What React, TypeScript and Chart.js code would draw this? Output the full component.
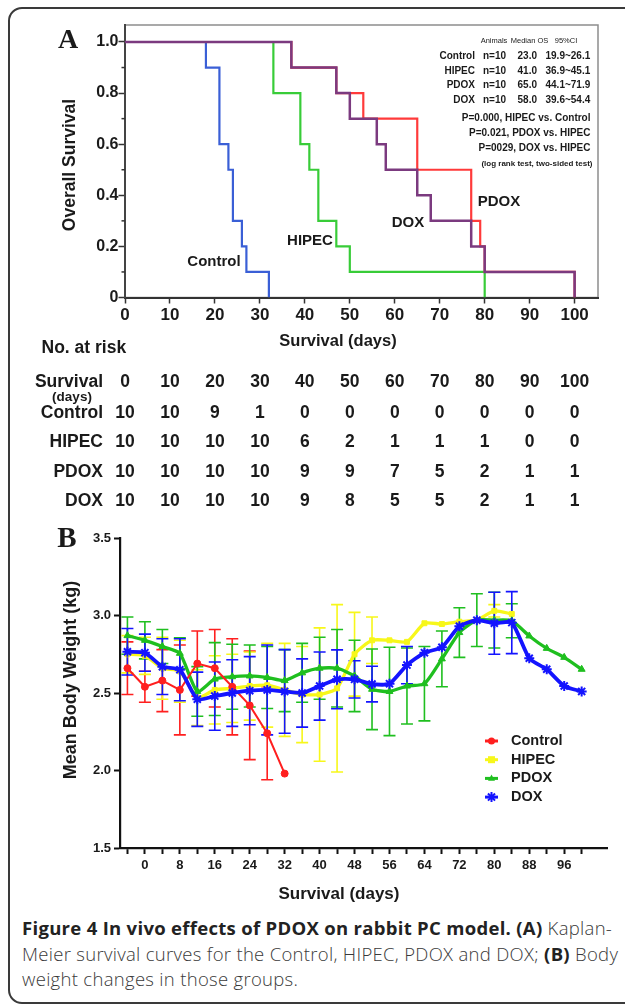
import React, { useEffect, useRef } from 'react';
import { Chart, registerables } from 'chart.js';

Chart.register(...registerables);

const FONT = '"Liberation Sans", Arial, Helvetica, sans-serif';
const SERIF = '"Liberation Serif", "Times New Roman", serif';

// ---------------- Panel A: Kaplan-Meier survival ----------------
const controlDays = [0, 18, 21, 23, 24, 26, 27, 32];
const controlSurv = [1, 0.9, 0.6, 0.5, 0.3, 0.2, 0.1, 0];
const hipecDays = [0, 33, 39, 41, 43, 47, 50, 80];
const hipecSurv = [1, 0.8, 0.6, 0.5, 0.3, 0.2, 0.1, 0];
const pdoxDays = [0, 37, 47, 53, 65, 77, 79, 80, 100];
const pdoxSurv = [1, 0.9, 0.8, 0.7, 0.5, 0.3, 0.2, 0.1, 0];
const doxDays = [0, 37, 47, 50, 56, 58, 65, 68, 77, 80, 100];
const doxSurv = [1, 0.9, 0.8, 0.7, 0.6, 0.5, 0.4, 0.3, 0.2, 0.1, 0];

const kmXTicks = [0, 10, 20, 30, 40, 50, 60, 70, 80, 90, 100];
const kmYMajor = [0, 0.2, 0.4, 0.6, 0.8, 1.0];
const kmYMinor = [0.1, 0.3, 0.5, 0.7, 0.9];

const statGroups = ['Control', 'HIPEC', 'PDOX', 'DOX'];
const statN = ['n=10', 'n=10', 'n=10', 'n=10'];
const statMedian = ['23.0', '41.0', '65.0', '58.0'];
const statCI = ['19.9~26.1', '36.9~45.1', '44.1~71.9', '39.6~54.4'];
const pValueLines = ['P=0.000, HIPEC vs. Control', 'P=0.021, PDOX vs. HIPEC', 'P=0029, DOX vs. HIPEC'];
const testNote = '(log rank test, two-sided test)';

const riskDays = [0, 10, 20, 30, 40, 50, 60, 70, 80, 90, 100];
const riskGroups = ['Control', 'HIPEC', 'PDOX', 'DOX'];
const riskControl = [10, 10, 9, 1, 0, 0, 0, 0, 0, 0, 0];
const riskHipec = [10, 10, 10, 10, 6, 2, 1, 1, 1, 0, 0];
const riskPdox = [10, 10, 10, 10, 9, 9, 7, 5, 2, 1, 1];
const riskDox = [10, 10, 10, 10, 9, 8, 5, 5, 2, 1, 1];

// ---------------- Panel B: body weight ----------------
const weightDays = [-4, 0, 4, 8, 12, 16, 20, 24, 28, 32, 36, 40, 44, 48, 52, 56, 60, 64, 68, 72, 76, 80, 84, 88, 92, 96, 100];
const weightTickDays = [-4, 0, 4, 8, 12, 16, 20, 24, 28, 32, 36, 40, 44, 48, 52, 56, 60, 64, 68, 72, 76, 80, 84, 88, 92, 96, 100];
const weightLabelDays = [0, 8, 16, 24, 32, 40, 48, 56, 64, 72, 80, 88, 96];
const weightYTicks = [1.5, 2.0, 2.5, 3.0, 3.5];

const controlWeight = [2.66, 2.54, 2.58, 2.52, 2.69, 2.66, 2.54, 2.42, 2.24, 1.98];
const controlSD = [0.17, 0.1, 0.2, 0.29, 0.21, 0.25, 0.31, 0.35, 0.3, 0];
const hipecWeight = [2.75, 2.74, 2.66, 2.64, 2.47, 2.52, 2.53, 2.545, 2.55, 2.52, 2.49, 2.49, 2.53, 2.75, 2.84, 2.84, 2.83, 2.95, 2.945, 2.96, 2.97, 3.03, 3.01];
const hipecSD = [0.12, 0.12, 0.2, 0.2, 0.18, 0.22, 0.22, 0.22, 0.27, 0.3, 0.31, 0.43, 0.54, 0.27, 0.15, 0, 0, 0, 0, 0, 0, 0.04, 0];
const pdoxWeight = [2.87, 2.84, 2.8, 2.756, 2.51, 2.59, 2.605, 2.61, 2.6, 2.58, 2.63, 2.66, 2.66, 2.61, 2.524, 2.51, 2.545, 2.56, 2.72, 2.89, 2.97, 2.97, 2.966, 2.868, 2.788, 2.73, 2.653];
const pdoxSD = [0.12, 0.12, 0.11, 0.1, 0.16, 0.235, 0.21, 0.2, 0.2, 0.2, 0.19, 0.2, 0.25, 0.23, 0.26, 0.285, 0.245, 0.24, 0.18, 0.16, 0.17, 0.18, 0.11, 0, 0, 0, 0];
const doxWeight = [2.766, 2.76, 2.67, 2.65, 2.46, 2.48, 2.5, 2.515, 2.52, 2.51, 2.5, 2.545, 2.588, 2.588, 2.558, 2.56, 2.68, 2.76, 2.795, 2.93, 2.97, 2.95, 2.954, 2.724, 2.653, 2.545, 2.51];
const doxSD = [0.15, 0.12, 0.18, 0.2, 0.175, 0.22, 0.215, 0.22, 0.29, 0.27, 0.22, 0.22, 0.19, 0.12, 0.115, 0, 0.12, 0, 0, 0, 0, 0.2, 0.2, 0, 0, 0, 0];

const weightGroups = ['Control', 'HIPEC', 'PDOX', 'DOX'];
const weightColors = ['#ff1f1f', '#f7f71a', '#1fbf1f', '#1414ff'];

function font(size: number, bold = true) {
  return `${bold ? 'bold ' : ''}${size}px ${FONT}`;
}

function toPoints(xs: number[], ys: number[]) {
  return ys.map((y, i) => ({ x: xs[i], y }));
}

// ---------- Panel A plugin ----------
const kmPlugin = {
  id: 'kmText',
  beforeDraw(chart: any) {
    const { ctx, chartArea } = chart;
    ctx.save();
    ctx.strokeStyle = '#8d8d8d';
    ctx.lineWidth = 1.5;
    ctx.strokeRect(chartArea.left, chartArea.top, chartArea.right - chartArea.left, chartArea.bottom - chartArea.top);
    ctx.restore();
  },
  afterDraw(chart: any) {
    const { ctx, chartArea } = chart;
    const xs = chart.scales.x;
    const ys = chart.scales.y;
    ctx.save();
    // minor y ticks
    ctx.strokeStyle = '#333';
    ctx.lineWidth = 1.5;
    kmYMinor.forEach((v) => {
      const py = ys.getPixelForValue(v);
      ctx.beginPath();
      ctx.moveTo(chartArea.left - 3.5, py);
      ctx.lineTo(chartArea.left, py);
      ctx.stroke();
    });

    ctx.fillStyle = '#1a1a1a';
    // Panel label
    ctx.font = `bold 28px ${SERIF}`;
    ctx.textAlign = 'center';
    ctx.textBaseline = 'middle';
    ctx.fillText('A', 68, 41);

    // axis titles
    ctx.save();
    ctx.translate(70.5, 165);
    ctx.rotate(-Math.PI / 2);
    ctx.font = font(17.5);
    ctx.fillText('Overall Survival', 0, 0);
    ctx.restore();
    ctx.font = font(16.5);
    ctx.fillText('Survival (days)', 338, 341);

    // curve labels
    ctx.font = font(15);
    ctx.fillText('Control', 214, 262);
    ctx.fillText('HIPEC', 310, 241);
    ctx.fillText('DOX', 408, 223);
    ctx.fillText('PDOX', 499, 202);

    // stats box
    ctx.font = font(7.5, false);
    ctx.fillText('Animals', 494, 41);
    ctx.fillText('Median OS', 529.5, 41);
    ctx.fillText('95%CI', 566, 41);
    ctx.font = font(10);
    statGroups.forEach((g, i) => {
      const y = 56 + i * 14.8;
      ctx.textAlign = 'right';
      ctx.fillText(g, 475, y);
      ctx.textAlign = 'left';
      ctx.fillText(statN[i], 483, y);
      ctx.textAlign = 'right';
      ctx.fillText(statMedian[i], 537, y);
      ctx.textAlign = 'left';
      ctx.fillText(statCI[i], 545.5, y);
    });
    ctx.textAlign = 'right';
    pValueLines.forEach((t, i) => {
      ctx.fillText(t, 590.5, 118 + i * 15.2);
    });
    ctx.font = font(8);
    ctx.fillText(testNote, 592.5, 164);

    // Number at risk table
    ctx.textAlign = 'left';
    ctx.font = font(17.5);
    ctx.fillText('No. at risk', 41.5, 348.5);
    const rowY = [413.5, 442.5, 472.5, 501.5];
    const rows = [riskControl, riskHipec, riskPdox, riskDox];
    ctx.textAlign = 'right';
    ctx.fillText('Survival', 103, 382);
    riskGroups.forEach((g, i) => ctx.fillText(g, 103, rowY[i]));
    ctx.textAlign = 'center';
    ctx.font = font(13.5);
    ctx.fillText('(days)', 72, 397);
    ctx.font = font(17.5);
    riskDays.forEach((d, j) => {
      const px = xs.getPixelForValue(d);
      ctx.fillText(String(d), px, 382);
      rows.forEach((r, i) => ctx.fillText(String(r[j]), px, rowY[i]));
    });
    ctx.restore();
  },
};

// ---------- Panel B plugin ----------
function drawMarker(ctx: CanvasRenderingContext2D, style: string, x: number, y: number, r: number, color: string) {
  ctx.save();
  ctx.fillStyle = color;
  ctx.strokeStyle = color;
  ctx.lineWidth = 2;
  ctx.beginPath();
  if (style === 'circle') {
    ctx.arc(x, y, r, 0, Math.PI * 2);
    ctx.fill();
  } else if (style === 'rect') {
    ctx.fillRect(x - r, y - r, 2 * r, 2 * r);
  } else if (style === 'triangle') {
    ctx.moveTo(x, y - r * 1.1);
    ctx.lineTo(x + r, y + r * 0.7);
    ctx.lineTo(x - r, y + r * 0.7);
    ctx.closePath();
    ctx.fill();
  } else {
    for (let k = 0; k < 4; k++) {
      const a = (k * Math.PI) / 4;
      ctx.moveTo(x - Math.cos(a) * r, y - Math.sin(a) * r);
      ctx.lineTo(x + Math.cos(a) * r, y + Math.sin(a) * r);
    }
    ctx.stroke();
  }
  ctx.restore();
}

const weightPlugin = {
  id: 'weightText',
  beforeDatasetsDraw(chart: any) {
    const { ctx } = chart;
    const ys = chart.scales.y;
    ctx.save();
    ctx.lineWidth = 1.6;
    chart.data.datasets.forEach((ds: any, i: number) => {
      const meta = chart.getDatasetMeta(i);
      ctx.strokeStyle = ds.borderColor;
      ds.errors.forEach((e: number, j: number) => {
        if (!e) return;
        const pt = meta.data[j];
        const v = ds.data[j].y;
        const top = ys.getPixelForValue(v + e);
        const bot = ys.getPixelForValue(v - e);
        ctx.beginPath();
        ctx.moveTo(pt.x, top);
        ctx.lineTo(pt.x, bot);
        ctx.moveTo(pt.x - 6, top);
        ctx.lineTo(pt.x + 6, top);
        ctx.moveTo(pt.x - 6, bot);
        ctx.lineTo(pt.x + 6, bot);
        ctx.stroke();
      });
    });
    ctx.restore();
  },
  afterDraw(chart: any) {
    const { ctx } = chart;
    ctx.save();
    ctx.fillStyle = '#1a1a1a';
    ctx.textAlign = 'center';
    ctx.textBaseline = 'middle';
    ctx.font = `bold 29px ${SERIF}`;
    ctx.fillText('B', 67, 15);
    ctx.save();
    ctx.translate(71.5, 155);
    ctx.rotate(-Math.PI / 2);
    ctx.font = font(18);
    ctx.fillText('Mean Body Weight (kg)', 0, 0);
    ctx.restore();
    ctx.font = font(17);
    ctx.fillText('Survival (days)', 339, 369);

    // legend
    const styles = ['circle', 'rect', 'triangle', 'star'];
    ctx.font = font(14.5);
    ctx.textAlign = 'left';
    weightGroups.forEach((g, i) => {
      const y = 216 + i * 18.7;
      ctx.strokeStyle = weightColors[i];
      ctx.lineWidth = 3;
      ctx.beginPath();
      ctx.moveTo(485, y);
      ctx.lineTo(498, y);
      ctx.stroke();
      drawMarker(ctx, styles[i], 491.5, y, i === 3 ? 5 : 3.5, weightColors[i]);
      ctx.fillStyle = '#1a1a1a';
      ctx.fillText(g, 511, y);
    });
    ctx.restore();
  },
};

function KMChart() {
  const ref = useRef<HTMLCanvasElement>(null);
  useEffect(() => {
    if (!ref.current) return;
    const chart = new Chart(ref.current, {
      type: 'line',
      data: {
        datasets: [
          { label: 'DOX', data: toPoints(doxDays, doxSurv), borderColor: '#7b3a7f', borderWidth: 2.5, stepped: true, pointRadius: 0, order: 0 },
          { label: 'PDOX', data: toPoints(pdoxDays, pdoxSurv), borderColor: '#ff3a3a', borderWidth: 2.2, stepped: true, pointRadius: 0, order: 1 },
          { label: 'HIPEC', data: toPoints(hipecDays, hipecSurv), borderColor: '#38cc38', borderWidth: 2.2, stepped: true, pointRadius: 0, order: 2 },
          { label: 'Control', data: toPoints(controlDays, controlSurv), borderColor: '#3a5fd6', borderWidth: 2.2, stepped: true, pointRadius: 0, order: 3 },
        ],
      },
      options: {
        responsive: false,
        animation: false,
        events: [],
        layout: { padding: { left: 0, right: 27, top: 25, bottom: 197.5 } },
        plugins: { legend: { display: false }, tooltip: { enabled: false } },
        scales: {
          x: {
            type: 'linear',
            min: 0,
            max: 105.2,
            afterBuildTicks: (s: any) => { s.ticks = kmXTicks.map((v) => ({ value: v })); },
            afterFit: (s: any) => { s.height = 30; },
            ticks: { font: { family: FONT, weight: 'bold', size: 17 }, color: '#1a1a1a', padding: 2, maxRotation: 0, autoSkip: false, callback: (v: any) => String(v) },
            grid: { display: true, drawOnChartArea: false, drawTicks: true, tickLength: 6, tickWidth: 1.5, tickColor: '#333' },
            border: { display: true, color: '#333', width: 2 },
          },
          y: {
            type: 'linear',
            min: 0,
            max: 1.0665,
            afterBuildTicks: (s: any) => { s.ticks = kmYMajor.map((v) => ({ value: v })); },
            afterFit: (s: any) => { s.width = 125; },
            ticks: { font: { family: FONT, weight: 'bold', size: 16 }, color: '#1a1a1a', padding: 0, autoSkip: false, callback: (v: any) => (v === 0 ? '0' : Number(v).toFixed(1)) },
            grid: { display: true, drawOnChartArea: false, drawTicks: true, tickLength: 6.5, tickWidth: 1.5, tickColor: '#333' },
            border: { display: true, color: '#444', width: 2 },
          },
        },
      },
      plugins: [kmPlugin],
    } as any);
    return () => chart.destroy();
  }, []);
  return <canvas ref={ref} width={625} height={525} style={{ position: 'absolute', left: 0, top: 0 }} />;
}

function WeightChart() {
  const ref = useRef<HTMLCanvasElement>(null);
  useEffect(() => {
    if (!ref.current) return;
    const mk = (label: string, vals: number[], sd: number[], color: string, style: string, radius: number, width: number, order: number, tension: number) => ({
      label,
      data: toPoints(weightDays, vals),
      errors: sd,
      borderColor: color,
      backgroundColor: color,
      pointBackgroundColor: color,
      pointBorderColor: color,
      pointStyle: style,
      pointRadius: radius,
      pointBorderWidth: style === 'star' ? 2 : 1,
      borderWidth: width,
      tension,
      order,
    });
    const chart = new Chart(ref.current, {
      type: 'line',
      data: {
        datasets: [
          mk('Control', controlWeight, controlSD, weightColors[0], 'circle', 3.5, 2, 1, 0),
          mk('HIPEC', hipecWeight, hipecSD, weightColors[1], 'rect', 3.5, 3.3, 3, 0.2),
          mk('PDOX', pdoxWeight, pdoxSD, weightColors[2], 'triangle', 4, 3.3, 2, 0.2),
          mk('DOX', doxWeight, doxSD, weightColors[3], 'star', 5, 3.8, 0, 0.2),
        ],
      },
      options: {
        responsive: false,
        animation: false,
        events: [],
        layout: { padding: { left: 0, right: 18, top: 13, bottom: 32 } },
        plugins: { legend: { display: false }, tooltip: { enabled: false } },
        scales: {
          x: {
            type: 'linear',
            min: -5.7,
            max: 105.8,
            afterBuildTicks: (s: any) => { s.ticks = weightTickDays.map((v) => ({ value: v })); },
            afterFit: (s: any) => { s.height = 30; },
            ticks: { font: { family: FONT, weight: 'bold', size: 13 }, color: '#1a1a1a', padding: 4, maxRotation: 0, autoSkip: false, callback: (v: any) => (weightLabelDays.includes(Number(v)) ? String(v) : '') },
            grid: { display: true, drawOnChartArea: false, drawTicks: true, tickLength: 6, tickWidth: 2, tickColor: '#111' },
            border: { display: true, color: '#111', width: 2.2 },
          },
          y: {
            type: 'linear',
            min: 1.5,
            max: 3.5,
            afterBuildTicks: (s: any) => { s.ticks = weightYTicks.map((v) => ({ value: v })); },
            afterFit: (s: any) => { s.width = 120; },
            ticks: { font: { family: FONT, weight: 'bold', size: 13 }, color: '#1a1a1a', padding: 3, autoSkip: false, callback: (v: any) => Number(v).toFixed(1) },
            grid: { display: true, drawOnChartArea: false, drawTicks: true, tickLength: 6, tickWidth: 2, tickColor: '#111' },
            border: { display: true, color: '#111', width: 2.2 },
          },
        },
      },
      plugins: [weightPlugin],
    } as any);
    return () => chart.destroy();
  }, []);
  return <canvas ref={ref} width={625} height={385} style={{ position: 'absolute', left: 0, top: 525 }} />;
}

export default function App() {
  return (
    <div style={{ position: 'absolute', left: 0, top: 0, width: 625, height: 1004, overflow: 'hidden', background: '#fff' }}>
      <div style={{ position: 'absolute', left: 8, top: 7, width: 660, height: 993, border: '2px solid #3a3a3a', borderRadius: 14 }} />
      <KMChart />
      <WeightChart />
      <div
        style={{
          position: 'absolute',
          left: 22,
          top: 915,
          whiteSpace: 'nowrap',
          fontFamily: '"Open Sans", "Noto Sans", sans-serif',
          fontSize: 18.5,
          letterSpacing: '0.3px',
          lineHeight: '25.5px',
          color: '#3a3a3a',
          fontWeight: 300,
        }}
      >
        <b style={{ fontWeight: 700, color: '#222' }}>Figure 4 In vivo effects of PDOX on rabbit PC model. (A)</b> Kaplan-
        <br />
        Meier survival curves for the Control, HIPEC, PDOX and DOX; <b style={{ fontWeight: 700, color: '#222' }}>(B)</b> Body
        <br />
        weight changes in those groups.
      </div>
    </div>
  );
}
